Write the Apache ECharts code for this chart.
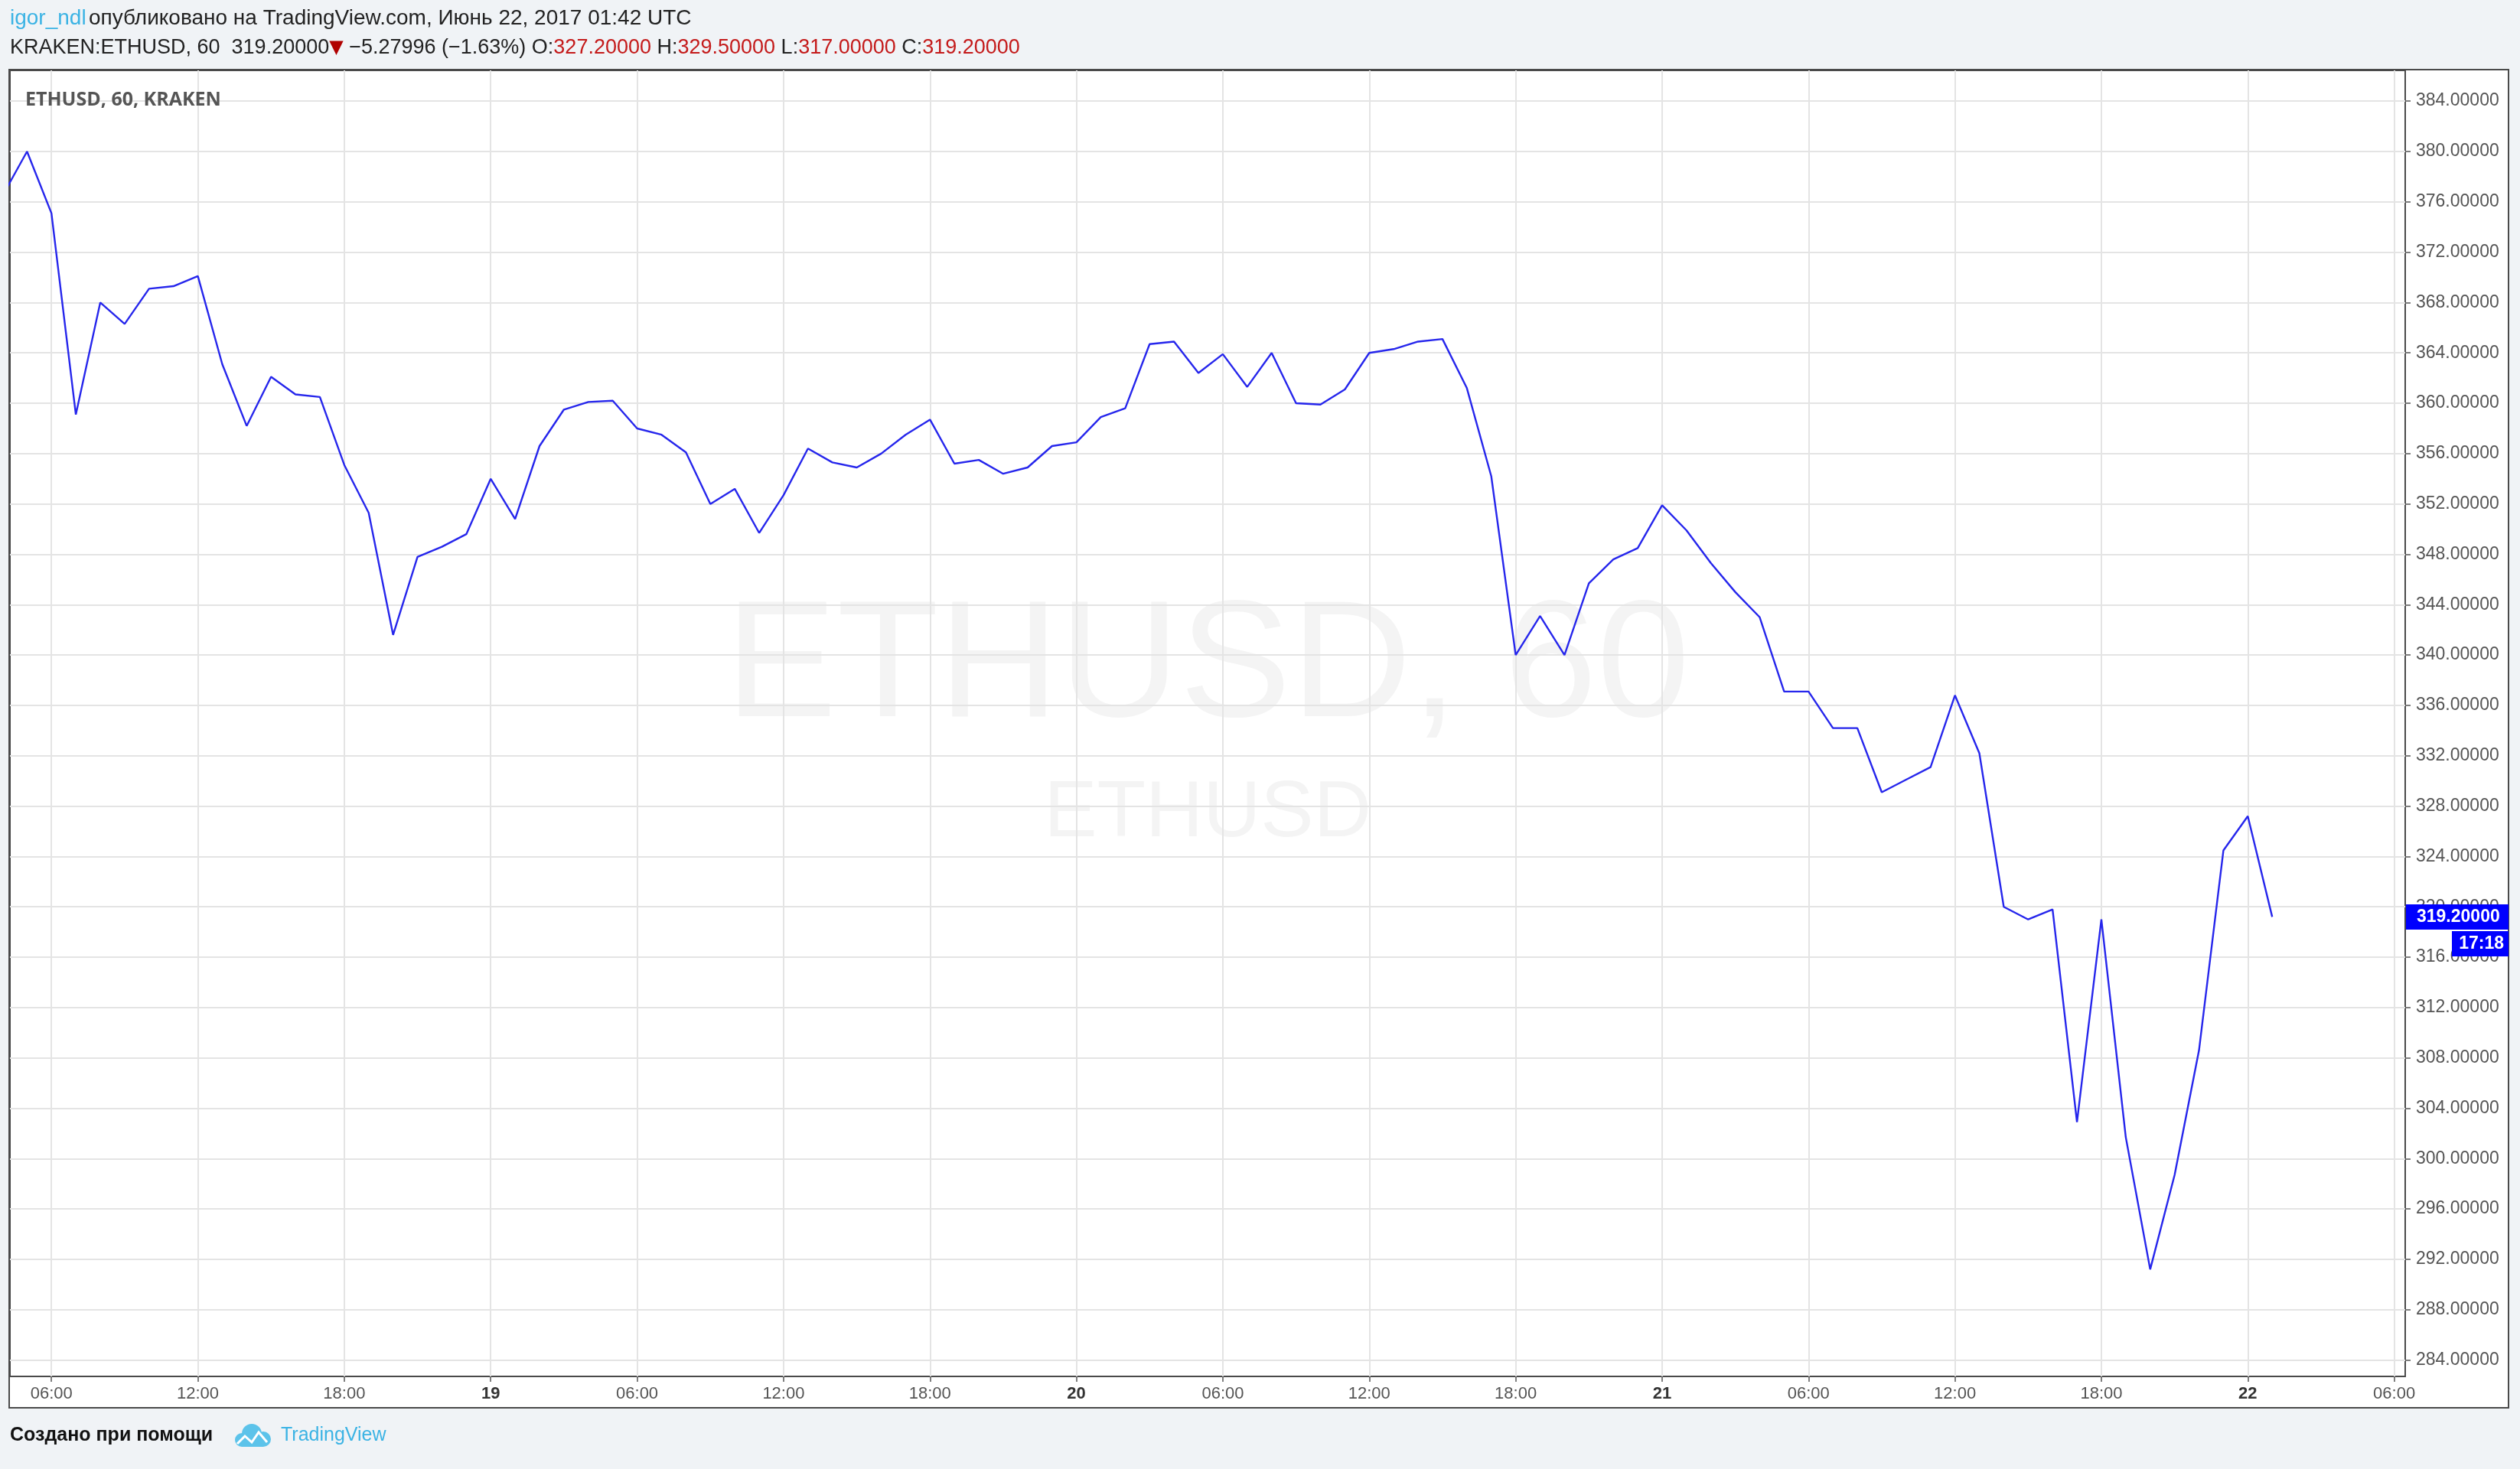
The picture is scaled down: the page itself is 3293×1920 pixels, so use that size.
<!DOCTYPE html>
<html><head><meta charset="utf-8">
<script src="https://cdn.jsdelivr.net/npm/echarts@6/dist/echarts.min.js"></script>
<style>html,body{margin:0;padding:0;background:#f0f3f6;}#c{width:3293px;height:1920px;}</style>
</head><body><div id="c"></div>
<script>
// Hourly closes, KRAKEN:ETHUSD 60, first point = 18 Jun 2017 04:00 UTC (hour 4 of the axis)
const firstHour = 4;
const prices = [
  376.5, 380.0, 375.1, 359.1, 368.0, 366.3, 369.1, 369.3, 370.1, 363.1,
  358.2, 362.1, 360.7, 360.5, 355.1, 351.3, 341.6, 347.8, 348.6, 349.6,
  354.0, 350.8, 356.6, 359.5, 360.1, 360.2, 358.0, 357.5, 356.1, 352.0,
  353.2, 349.7, 352.7, 356.4, 355.3, 354.9, 356.0, 357.5, 358.7, 355.2,
  355.5, 354.4, 354.9, 356.6, 356.9, 358.9, 359.6, 364.7, 364.9, 362.4,
  363.9, 361.3, 364.0, 360.0, 359.9, 361.1, 364.0, 364.3, 364.9, 365.1,
  361.2, 354.2, 340.0, 343.1, 340.0, 345.7, 347.6, 348.5, 351.9, 349.9,
  347.3, 345.0, 343.0, 337.1, 337.1, 334.2, 334.2, 329.1, 330.1, 331.1,
  336.8, 332.2, 320.0, 319.0, 319.8, 302.9, 319.0, 301.7, 291.2, 298.7,
  308.6, 324.48, 327.2, 319.2
];
const yTicks = [284, 288, 292, 296, 300, 304, 308, 312, 316, 320, 324, 328, 332, 336, 340, 344, 348, 352, 356, 360, 364, 368, 372, 376, 380, 384];
const xTickHours = [6, 12, 18, 24, 30, 36, 42, 48, 54, 60, 66, 72, 78, 84, 90, 96, 102];
const xTickLabels = ['06:00', '12:00', '18:00', '19', '06:00', '12:00', '18:00', '20', '06:00', '12:00', '18:00', '21', '06:00', '12:00', '18:00', '22', '06:00'];
const lastPrice = 319.2;
const countdown = '17:18';

const chart = echarts.init(document.getElementById('c'), null, {renderer: 'canvas'});
const FONT = 'Liberation Sans, Arial, sans-serif';
const seriesData = prices.map((v, i) => [firstHour + i, v]);

chart.setOption({
  animation: false,
  backgroundColor: '#f0f3f6',
  grid: {left: 13, right: 150, top: 92, bottom: 121, show: true, borderColor: '#4a4a4a', borderWidth: 2, backgroundColor: 'transparent'},
  xAxis: {
    type: 'value', min: 4.3, max: 102.45,
    axisLine: {show: false},
    axisTick: {show: true, customValues: xTickHours, length: 7, lineStyle: {color: '#555', width: 1.5}},
    axisLabel: {
      customValues: xTickHours, margin: 12, fontSize: 22, fontFamily: FONT, color: '#555',
      formatter: v => {
        const i = xTickHours.indexOf(Math.round(v));
        const s = i >= 0 ? xTickLabels[i] : '';
        return s.indexOf(':') < 0 ? '{d|' + s + '}' : s;
      },
      rich: {d: {fontWeight: 'bold', color: '#333', fontSize: 22, fontFamily: FONT}}
    },
    splitLine: {show: true, lineStyle: {color: '#e4e4e4', width: 2}}
  },
  yAxis: {
    type: 'value', position: 'right', min: 282.7, max: 386.44, scale: true,
    axisLine: {show: false},
    axisTick: {show: true, customValues: yTicks, length: 7, lineStyle: {color: '#555', width: 1.5}},
    axisLabel: {customValues: yTicks, margin: 14, fontSize: 23, fontFamily: FONT, color: '#555', formatter: v => v.toFixed(5)},
    splitLine: {show: true, lineStyle: {color: '#e4e4e4', width: 2}}
  },
  series: [{
    type: 'line', data: seriesData, showSymbol: false, z: 5,
    lineStyle: {color: '#2626ec', width: 2.4},
    markLine: {
      silent: true, symbol: ['none', 'none'], animation: false,
      lineStyle: {color: 'rgba(0,0,0,0)', width: 0, type: 'solid'},
      data: [{yAxis: lastPrice}],
      label: {
        show: true, position: 'end', distance: 1, color: '#fff',
        formatter: () => '{e| }\n{p|' + lastPrice.toFixed(5) + '}\n{t|' + countdown + '}',
        rich: {
          e: {height: 33, lineHeight: 35, fontSize: 22},
          p: {backgroundColor: '#0000ff', color: '#fff', fontWeight: 'bold', fontSize: 23, fontFamily: FONT, width: 120, height: 33, lineHeight: 35, padding: [0, 0, 0, 14]},
          t: {backgroundColor: '#0000ff', color: '#fff', fontWeight: 'bold', fontSize: 23, fontFamily: FONT, width: 60, height: 33, lineHeight: 35, align: 'right', padding: [0, 6, 0, 8]}
        }
      }
    }
  }],
  graphic: [
    {type: 'rect', z: -10, shape: {x: 12, y: 91, width: 3266, height: 1749}, style: {fill: '#ffffff', stroke: '#4a4a4a', lineWidth: 2}},
    {type: 'text', z: -5, style: {text: 'ETHUSD, 60', x: 1578, y: 876, align: 'center', verticalAlign: 'middle', font: '218px Liberation Sans, Arial, sans-serif', fill: '#f4f4f4'}},
    {type: 'text', z: -5, style: {text: 'ETHUSD', x: 1578, y: 1064, align: 'center', verticalAlign: 'middle', font: '104px Liberation Sans, Arial, sans-serif', fill: '#f4f4f4'}},
    {type: 'text', z: 10, style: {
      x: 13, y: 24, verticalAlign: 'middle',
      text: '{u|igor_ndl} {t|опубликовано на TradingView.com, Июнь 22, 2017 01:42 UTC}',
      rich: {
        u: {fill: '#3bb3e4', fontSize: 28, fontFamily: FONT},
        t: {fill: '#222', fontSize: 28, fontFamily: FONT}
      }
    }},
    {type: 'text', z: 10, style: {
      x: 13, y: 63, verticalAlign: 'middle',
      text: '{k|KRAKEN:ETHUSD, 60  319.20000}{r|▼}{k| −5.27996 (−1.63%) O:}{v|327.20000}{k| H:}{v|329.50000}{k| L:}{v|317.00000}{k| C:}{v|319.20000}',
      rich: {
        k: {fill: '#222', fontSize: 27, fontFamily: FONT},
        r: {fill: '#b00000', fontSize: 24, fontFamily: 'DejaVu Sans'},
        v: {fill: '#c41a1a', fontSize: 27, fontFamily: FONT}
      }
    }},
    {type: 'text', z: 10, style: {text: 'ETHUSD, 60, KRAKEN', x: 33, y: 131, verticalAlign: 'middle', font: 'bold 25px "Open Sans", sans-serif', fill: '#555'}},
    {type: 'text', z: 10, style: {text: 'Создано при помощи', x: 13, y: 1876, verticalAlign: 'middle', font: 'bold 25px Liberation Sans, Arial, sans-serif', fill: '#111'}},
    {type: 'group', x: 304, y: 1858, children: [
      {type: 'circle', shape: {cx: 12, cy: 24, r: 9}, style: {fill: '#5cc3ea'}},
      {type: 'circle', shape: {cx: 25, cy: 16, r: 13}, style: {fill: '#5cc3ea'}},
      {type: 'circle', shape: {cx: 40, cy: 23, r: 10}, style: {fill: '#5cc3ea'}},
      {type: 'rect', shape: {x: 12, y: 20, width: 28, height: 13}, style: {fill: '#5cc3ea'}},
      {type: 'polyline', shape: {points: [[6, 29], [16, 19], [25, 27], [34, 14], [45, 27]]}, style: {stroke: '#ffffff', lineWidth: 3, fill: null}}
    ]},
    {type: 'text', z: 10, style: {text: 'TradingView', x: 367, y: 1876, verticalAlign: 'middle', font: '25px Liberation Sans, Arial, sans-serif', fill: '#3bb3e4'}}
  ]
});
</script></body></html>
